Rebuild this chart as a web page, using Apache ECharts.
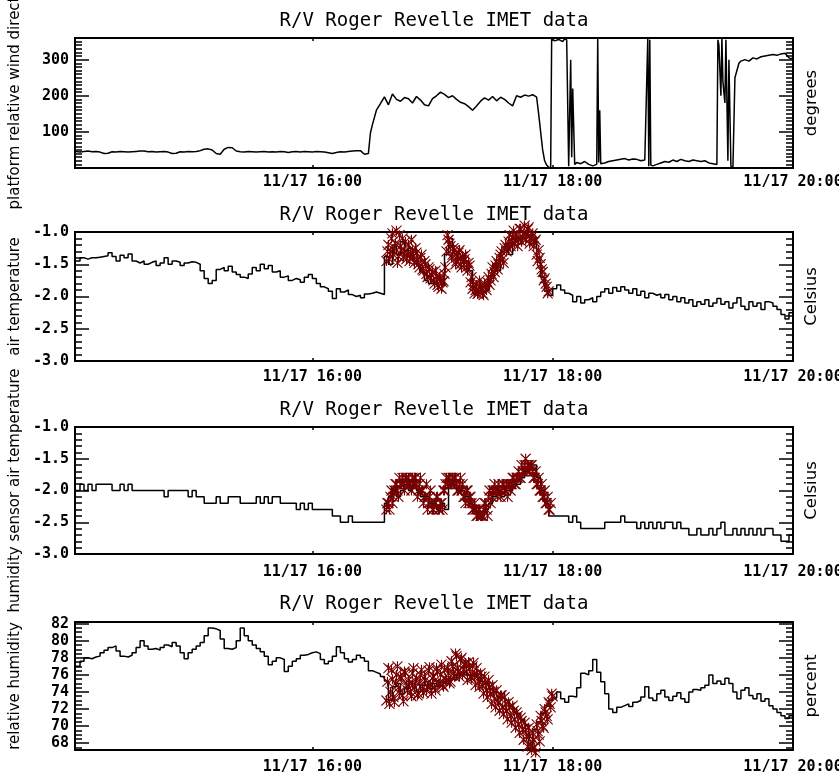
<!DOCTYPE html>
<html><head><meta charset="utf-8">
<script src="https://cdn.jsdelivr.net/npm/echarts@6/dist/echarts.min.js"></script>
<style>html,body{margin:0;padding:0;background:#fff}#c{width:839px;height:779px}</style>
</head><body><div id="c"></div>
<script>
// ---------------- data (minutes after 14:00 on 11/17) ----------------
const TITLE = 'R/V Roger Revelle IMET data';
const dayLabel = '11/17';
const xStart = 1.5, xEnd = 360;
const xTickMinutes = [120, 240, 360];
const gridStart = 2, gridStep = 2;        // black series sampling
const rawStartA = 157, rawStartB = 157.5, rawStep = 1;   // red series sampling

const windDir = [[2,46],[4,44],[6,46],[8,47],[10,45],[12,46],[14,44],[16,40],[18,41],[20,45],[22,44],[24,46],[26,45],[28,44],[30,45],[32,46],[34,47],[36,47],[38,45],[40,46],[42,44],[44,45],[46,46],[48,44],[50,40],[52,41],[54,45],[56,44],[58,46],[60,45],[62,46],[64,48],[66,52],[68,53],[70,50],[72,40],[74,38],[76,52],[78,57],[80,56],[82,47],[84,45],[86,44],[88,46],[90,45],[92,44],[94,45],[96,46],[98,44],[100,45],[102,44],[104,46],[106,45],[108,43],[110,45],[112,46],[114,44],[116,46],[118,45],[120,44],[122,46],[124,45],[126,44],[128,42],[130,40],[132,43],[134,45],[136,44],[138,46],[140,47],[142,48],[144,48],[146,38],[148,40],[149,97],[150,120],[152,160],[154,178],[156,197],[158,175],[160,205],[162,190],[164,185],[166,195],[168,192],[170,180],[172,198],[174,188],[176,175],[178,172],[180,192],[182,200],[184,210],[186,204],[188,195],[190,200],[192,190],[194,182],[196,178],[198,170],[200,160],[202,172],[204,185],[206,194],[208,188],[210,198],[212,186],[214,196],[216,190],[218,180],[220,172],[222,200],[224,196],[226,202],[228,199],[230,203],[232,196],[233,150],[234,100],[235,50],[236,20],[237,8],[238,2],[239,0],[239.5,358],[241,352],[243,356],[245,350],[246,358],[247,355],[248,5],[249,300],[249.5,30],[250,220],[251,10],[252,15],[254,12],[256,18],[258,10],[260,6],[262,10],[262.5,359],[263,15],[263.5,160],[264,12],[266,14],[268,18],[270,20],[272,22],[274,24],[276,26],[278,22],[280,25],[282,24],[284,20],[286,22],[287.5,360],[288,5],[288.5,355],[289,8],[290,6],[292,10],[294,14],[296,18],[298,16],[300,22],[302,18],[304,24],[306,20],[308,18],[310,22],[312,20],[314,18],[316,20],[318,14],[320,12],[322,10],[322.5,355],[323,340],[324,200],[324.5,360],[325,240],[326,180],[326.5,355],[327.5,20],[328,300],[329,5],[330,0],[331,250],[332,270],[333,290],[334,296],[336,300],[338,296],[340,305],[342,302],[344,308],[346,310],[348,312],[350,314],[352,312],[354,316],[356,318],[358,305],[359,302],[360,306]];

const airTemp = [-1.45,-1.40,-1.42,-1.40,-1.40,-1.39,-1.38,-1.37,-1.32,-1.38,
-1.45,-1.36,-1.40,-1.34,-1.45,-1.48,-1.45,-1.50,-1.47,-1.45,
-1.52,-1.48,-1.40,-1.50,-1.45,-1.47,-1.52,-1.48,-1.46,-1.47,
-1.50,-1.60,-1.72,-1.80,-1.75,-1.58,-1.55,-1.60,-1.53,-1.62,
-1.66,-1.70,-1.72,-1.65,-1.55,-1.60,-1.50,-1.57,-1.52,-1.62,
-1.60,-1.70,-1.68,-1.75,-1.72,-1.74,-1.78,-1.70,-1.66,-1.72,
-1.80,-1.85,-1.88,-1.92,-2.03,-1.88,-1.93,-1.90,-1.97,-2.00,
-1.98,-2.02,-1.96,-1.95,-1.93,-1.95,-1.97,-1.38,-1.50,-1.20,
-1.35,-1.15,-1.30,-1.25,-1.45,-1.50,-1.62,-1.75,-1.80,-1.78,
-1.72,-1.80,-1.35,-1.10,-1.30,-1.42,-1.38,-1.45,-1.60,-1.95,
-1.95,-1.93,-1.90,-1.68,-1.50,-1.60,-1.30,-1.20,-1.35,-1.15,
-1.10,-1.08,-1.05,-1.02,-1.08,-1.40,-1.70,-1.92,-1.98,-1.88,
-1.82,-1.90,-1.95,-1.98,-2.08,-2.00,-2.10,-2.05,-2.02,-2.08,
-2.00,-1.93,-1.88,-1.95,-1.86,-1.92,-1.85,-1.90,-1.95,-1.88,
-1.98,-1.92,-2.02,-1.95,-1.98,-1.96,-2.02,-1.97,-2.05,-2.00,
-2.08,-2.02,-2.10,-2.05,-2.15,-2.08,-2.12,-2.05,-2.15,-2.10,
-2.03,-2.12,-2.08,-2.18,-2.10,-2.02,-2.15,-2.20,-2.08,-2.15,
-2.10,-2.20,-2.08,-2.10,-2.15,-2.20,-2.28,-2.35,-2.25,-2.35];

const airTempRawA = [-1.45,-1.20,-1.30,-1.02,-1.25,-0.98,-1.38,-1.22,-1.10,-1.30,
-1.42,-1.20,-1.35,-1.28,-1.48,-1.32,-1.50,-1.40,-1.58,-1.45,
-1.65,-1.55,-1.72,-1.62,-1.80,-1.68,-1.85,-1.72,-1.78,-1.65,
-1.30,-1.12,-1.22,-1.35,-1.28,-1.45,-1.32,-1.50,-1.38,-1.42,
-1.55,-1.48,-1.78,-1.88,-1.95,-1.82,-1.92,-1.85,-1.95,-1.80,
-1.90,-1.70,-1.75,-1.55,-1.62,-1.45,-1.50,-1.35,-1.42,-1.25,
-1.30,-1.15,-1.22,-1.08,-1.18,-1.05,-1.12,-0.95,-1.08,-0.90,
-1.05,-0.93,-1.10,-1.02,-1.15,-1.35,-1.28,-1.50,-1.62,-1.72,
-1.85,-1.92];
const airTempRawB = [-1.30,-1.42,-1.10,-1.35,-1.18,-1.48,-1.05,-1.28,-1.40,-1.15,-1.32,-1.45,-1.12,-1.38,
-1.25,-1.42,-1.55,-1.35,-1.60,-1.50,-1.70,-1.58,-1.66,-1.75,-1.60,-1.82,-1.70,-1.88,-1.76,-1.55,
-1.05,-1.18,-1.40,-1.25,-1.50,-1.38,-1.28,-1.55,-1.45,-1.35,-1.60,-1.52,
-1.70,-1.82,-1.90,-1.96,-1.75,-1.88,-1.98,-1.85,-1.78,
-1.82,-1.65,-1.70,-1.52,-1.58,-1.40,-1.30,-1.48,-1.20,
-1.25,-1.05,-1.15,-0.98,-1.12,-1.22,-0.95,-1.15,-1.02,-1.12,-0.96,-1.18,-1.08,-1.22,-1.12,
-1.45,-1.40,-1.58,-1.75,-1.80,-1.95];

const hsTemp = [-2.0,-1.9,-2.0,-1.9,-2.0,-1.9,-1.9,-1.9,-1.9,-2.0,
-2.0,-1.9,-2.0,-1.9,-2.0,-2.0,-2.0,-2.0,-2.0,-2.0,
-2.0,-2.0,-2.1,-2.0,-2.0,-2.0,-2.0,-2.0,-2.1,-2.0,
-2.1,-2.1,-2.2,-2.2,-2.2,-2.1,-2.2,-2.2,-2.1,-2.1,
-2.1,-2.2,-2.2,-2.2,-2.2,-2.1,-2.2,-2.1,-2.2,-2.1,
-2.1,-2.2,-2.2,-2.2,-2.2,-2.3,-2.2,-2.3,-2.2,-2.3,
-2.3,-2.3,-2.3,-2.3,-2.4,-2.4,-2.5,-2.5,-2.4,-2.5,
-2.5,-2.5,-2.5,-2.5,-2.5,-2.5,-2.5,-2.2,-2.1,-2.0,
-2.1,-2.0,-1.9,-2.0,-1.9,-2.0,-2.1,-2.1,-2.2,-2.2,
-2.3,-2.2,-2.3,-1.9,-1.9,-2.0,-2.0,-2.1,-2.2,-2.3,
-2.4,-2.4,-2.3,-2.2,-2.1,-2.0,-2.1,-2.0,-2.0,-1.9,
-1.9,-1.8,-1.7,-1.6,-1.6,-1.8,-2.0,-2.2,-2.4,-2.4,
-2.4,-2.4,-2.4,-2.5,-2.4,-2.5,-2.6,-2.6,-2.6,-2.6,
-2.6,-2.6,-2.5,-2.5,-2.5,-2.5,-2.4,-2.5,-2.5,-2.5,
-2.6,-2.5,-2.6,-2.5,-2.6,-2.5,-2.6,-2.5,-2.5,-2.6,
-2.5,-2.6,-2.6,-2.7,-2.7,-2.6,-2.7,-2.7,-2.6,-2.7,
-2.6,-2.5,-2.7,-2.7,-2.6,-2.7,-2.6,-2.7,-2.6,-2.7,
-2.6,-2.7,-2.6,-2.6,-2.7,-2.7,-2.8,-2.8,-2.7,-2.8];

const hsTempRawA = [-2.3,-2.2,-2.1,-2.2,-2.0,-1.9,-2.1,-1.9,-1.8,-2.0,
-1.8,-1.8,-1.9,-1.8,-1.8,-1.9,-2.0,-1.8,-2.0,-2.1,
-1.9,-2.2,-2.0,-2.3,-2.2,-2.1,-2.3,-2.2,-2.3,-2.0,
-1.8,-1.8,-1.9,-1.8,-1.8,-1.9,-2.0,-1.8,-1.9,-2.1,
-2.0,-2.2,-2.1,-2.3,-2.2,-2.4,-2.3,-2.4,-2.4,-2.2,
-2.3,-2.1,-2.2,-2.0,-1.9,-2.0,-1.9,-2.1,-1.9,-2.0,
-1.9,-1.9,-2.0,-1.8,-1.9,-1.8,-1.7,-1.8,-1.7,-1.6,
-1.7,-1.6,-1.6,-1.7,-1.8,-1.9,-1.8,-2.0,-2.1,-2.0,
-2.2,-2.3,-2.2];
const hsTempRawB = [-2.2,-2.3,-2.0,-2.1,-1.9,-2.0,-1.8,-1.9,-1.9,-1.8,-1.9,
-1.9,-2.0,-1.9,-1.8,-2.1,-1.9,-2.0,-2.2,-2.1,-2.3,-2.1,-2.2,-2.3,-2.2,-2.1,-2.3,-2.2,-2.0,-1.9,
-1.9,-1.8,-1.9,-1.9,-1.8,-2.0,-1.9,-2.0,-2.1,-2.2,-2.0,-2.1,
-2.2,-2.3,-2.3,-2.4,-2.3,-2.4,-2.3,-2.2,-2.4,
-2.0,-2.1,-2.0,-2.0,-2.1,-2.0,-2.0,-1.9,-2.0,-2.1,-1.9,-1.9,-1.8,-1.9,-1.8,
-1.8,-1.6,-1.7,-1.5,-1.6,-1.7,-1.6,-1.8,-1.7,-1.9,-2.0,-1.9,-2.1,-2.2,-2.1,-2.3];

const relHum = [77.0,77.6,78.0,77.9,78.1,78.2,78.6,78.9,79.2,79.4,
78.8,78.2,78.1,78.3,78.6,79.2,80.0,79.4,79.0,79.1,
78.9,79.2,79.5,79.3,79.8,79.4,78.6,77.9,78.6,79.0,
79.4,79.8,80.6,81.5,81.4,81.2,80.2,79.1,79.0,79.2,
80.0,81.5,80.6,80.0,79.5,79.1,78.7,78.2,77.2,77.6,
78.0,77.8,76.4,77.0,77.6,77.9,78.3,78.4,78.6,78.7,
78.5,77.8,77.3,77.6,78.2,79.3,78.6,77.9,77.5,77.8,
78.3,78.0,77.6,76.5,76.3,76.1,75.8,75.3,73.0,74.6,
75.0,73.8,74.4,75.2,74.5,74.0,74.8,75.2,74.4,75.0,
74.6,75.3,75.0,75.6,75.4,75.9,76.3,76.0,75.8,76.1,
75.7,75.2,75.0,74.4,74.0,73.5,73.8,73.0,72.4,72.0,
71.5,70.8,70.2,67.3,69.6,70.5,71.5,72.4,73.0,73.3,
74.0,73.2,72.8,73.5,73.4,74.5,76.2,76.0,76.5,77.8,
76.3,75.2,73.8,72.0,71.6,72.2,72.4,72.6,72.3,72.8,
73.0,73.4,74.6,73.3,73.0,73.8,74.2,73.4,73.0,73.5,
73.9,73.2,72.8,74.0,74.3,74.2,74.5,74.8,76.0,75.0,
75.3,74.9,75.6,75.0,74.0,73.2,74.2,74.5,73.6,73.2,
73.8,72.9,73.2,72.4,72.0,71.6,71.2,70.9,71.2,71.4];

const relHumRawA = [73.0,76.8,74.0,75.5,72.8,76.0,74.5,75.8,73.6,76.4,
74.8,75.4,74.0,76.2,74.6,75.6,73.8,76.0,74.4,75.8,
74.2,76.5,74.8,75.6,74.5,76.8,75.0,76.0,74.8,76.6,
75.4,76.2,75.2,77.0,75.8,78.2,76.4,77.8,76.0,77.2,
76.4,77.5,75.8,77.0,76.0,76.8,75.2,76.2,74.8,75.8,
74.2,75.4,73.8,74.8,73.2,74.2,72.8,73.6,72.2,73.4,
71.8,72.8,71.2,72.4,70.8,71.6,70.2,71.0,69.6,70.4,
68.8,69.8,67.8,69.2,67.5,70.2,69.0,71.2,70.0,72.0,
71.2,72.8,72.2,73.5];
const relHumRawB = [75.2,72.6,76.6,73.4,75.0,77.0,73.8,75.6,72.9,76.2,74.2,75.0,73.5,76.8,75.2,
73.6,75.0,76.6,73.9,75.4,74.6,76.9,73.8,75.8,74.2,76.4,75.0,77.2,74.6,75.6,
76.8,75.0,77.6,76.2,78.5,76.8,75.8,78.0,76.6,77.4,75.4,76.8,75.6,77.4,74.8,
76.0,74.6,75.8,73.8,75.0,73.4,74.6,72.6,74.0,72.2,73.0,71.8,73.6,71.4,72.6,
70.8,72.2,70.4,71.8,69.8,71.2,69.2,70.6,68.4,69.6,67.6,68.8,67.2,68.4,66.9,
69.4,68.2,70.6,69.8,71.6,70.8,72.6,73.8];

// tick label values
const windTicks = [100, 200, 300];
const tempTicks = [-3.0, -2.5, -2.0, -1.5, -1.0];
const humTicks = [68, 70, 72, 74, 76, 78, 80, 82];

// ---------------- helpers ----------------
const onGrid = (start, step, vals) => vals.map((v, i) => [start + i * step, v]);
const rawPts = (a, b) => onGrid(rawStartA, rawStep, a).concat(onGrid(rawStartB, rawStep, b));
const pad2 = n => String(n).padStart(2, '0');
const timeLabel = m => dayLabel + ' ' + pad2(14 + Math.floor(m / 60)) + ':' + pad2(Math.round(m % 60));
function minorList(min, max, step, majors) {
  const out = [];
  for (let k = Math.ceil(min / step - 1e-9); k * step <= max + 1e-9; k++) {
    const v = Math.round(k * step * 1000) / 1000;
    if (!majors.some(mj => Math.abs(mj - v) < 1e-6)) out.push(v);
  }
  return out;
}

const MONO = '"DejaVu Sans Mono", monospace';
const SANS = '"DejaVu Sans", sans-serif';
const panels = [
  { yName: 'platform relative wind direct', unit: 'degrees', min: 0, max: 360, ticks: windTicks, minor: 10, dec: 0,
    top: 38, h: 130, titleY: 21, xMargin: 7, line: windDir, raw: null, step: false },
  { yName: 'air temperature', unit: 'Celsius', min: -3, max: -1, ticks: tempTicks, minor: 0.1, dec: 1,
    top: 232, h: 129, titleY: 215, xMargin: 9, line: onGrid(gridStart, gridStep, airTemp), raw: rawPts(airTempRawA, airTempRawB), step: 'end' },
  { yName: 'humidity sensor air temperature', unit: 'Celsius', min: -3, max: -1, ticks: tempTicks, minor: 0.1, dec: 1,
    top: 427, h: 127, titleY: 410, xMargin: 11, line: onGrid(gridStart, gridStep, hsTemp), raw: rawPts(hsTempRawA, hsTempRawB), step: 'end' },
  { yName: 'relative humidity', unit: 'percent', min: 67.2, max: 82.2, ticks: humTicks, minor: 0.5, dec: 0,
    top: 622, h: 128, titleY: 604, xMargin: 10, line: onGrid(gridStart, gridStep, relHum), raw: rawPts(relHumRawA, relHumRawB), step: 'end' }
];

const LEFT = 75, WIDTH = 718;
const grid = [], xAxis = [], yAxis = [], series = [], graphic = [];
const tickStyle = { color: '#000', width: 1.5 };

panels.forEach((p, g) => {
  grid.push({ left: LEFT, top: p.top, width: WIDTH, height: p.h, show: true, borderColor: '#000', borderWidth: 2,
    backgroundColor: '#fff', containLabel: false, outerBoundsMode: 'none' });
  xAxis.push({ gridIndex: g, type: 'value', min: xStart, max: xEnd, position: 'bottom',
    axisLine: { show: false, onZero: false }, splitLine: { show: false },
    axisTick: { show: true, inside: true, length: 3, customValues: xTickMinutes, lineStyle: tickStyle },
    axisLabel: { show: true, customValues: xTickMinutes, formatter: v => timeLabel(v), margin: p.xMargin,
      color: '#000', fontFamily: MONO, fontSize: 15, fontWeight: 'bold', hideOverlap: false } });
  xAxis.push({ gridIndex: g, type: 'value', min: xStart, max: xEnd, position: 'top',
    axisLine: { show: false, onZero: false }, splitLine: { show: false },
    axisTick: { show: true, inside: true, length: 3, customValues: xTickMinutes, lineStyle: tickStyle },
    axisLabel: { show: false } });
  const minors = minorList(p.min, p.max, p.minor, p.ticks);
  const mk = (pos, len, vals, labels) => ({
    gridIndex: g, type: 'value', min: p.min, max: p.max, position: pos, offset: 0,
    axisLine: { show: false, onZero: false }, splitLine: { show: false },
    axisTick: { show: true, inside: true, length: len, customValues: vals, lineStyle: tickStyle },
    axisLabel: labels ? { show: true, customValues: p.ticks, formatter: v => Number(v).toFixed(p.dec), margin: 6,
      color: '#000', fontFamily: MONO, fontSize: 15, fontWeight: 'bold' } : { show: false }
  });
  yAxis.push(mk('left', 14, p.ticks, true));
  yAxis.push(mk('left', 7, minors, false));
  yAxis.push(mk('right', 14, p.ticks, false));
  yAxis.push(mk('right', 7, minors, false));

  series.push({ type: 'line', xAxisIndex: 2 * g, yAxisIndex: 4 * g, data: p.line, symbol: 'none', showSymbol: false,
    step: p.step, lineStyle: { color: '#000', width: 1.5 }, animation: false, silent: true, z: 3 });
  if (p.raw) {
    series.push({ type: 'scatter', xAxisIndex: 2 * g, yAxisIndex: 4 * g, data: p.raw,
      symbol: 'path://M0,0L10,10M10,0L0,10M5,0L5,10', symbolSize: 10, clip: false,
      itemStyle: { color: 'rgba(0,0,0,0)', borderColor: '#780000', borderWidth: 1.1, opacity: 1 },
      animation: false, silent: true, z: 4 });
  }
  graphic.push({ type: 'text', x: LEFT + WIDTH / 2, y: p.titleY, silent: true,
    style: { text: TITLE, fill: '#000', font: '19px ' + MONO, align: 'center', verticalAlign: 'middle',
      textAlign: 'center', textVerticalAlign: 'middle' } });
  graphic.push({ type: 'text', x: 15, y: p.top + p.h / 2, rotation: Math.PI / 2, silent: true,
    style: { text: p.yName, fill: '#000', font: '15px ' + SANS, align: 'center', verticalAlign: 'middle',
      textAlign: 'center', textVerticalAlign: 'middle' } });
  graphic.push({ type: 'text', x: 812, y: p.top + p.h / 2, rotation: Math.PI / 2, silent: true,
    style: { text: p.unit, fill: '#000', font: '16.5px ' + SANS, align: 'center', verticalAlign: 'middle',
      textAlign: 'center', textVerticalAlign: 'middle' } });
});

const chart = echarts.init(document.getElementById('c'), null, { renderer: 'canvas' });
chart.setOption({ backgroundColor: '#fff', animation: false, grid, xAxis, yAxis, series, graphic });
</script>
</body></html>
